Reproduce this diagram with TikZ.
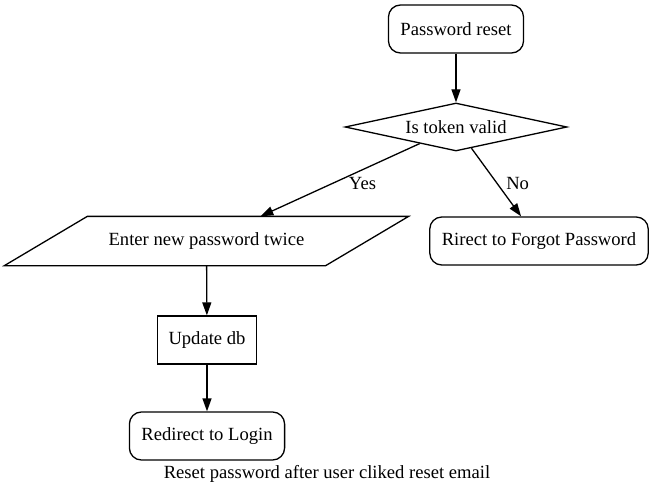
\documentclass[tikz,border=0pt]{standalone}
\usepackage{fontspec}
\setmainfont{Liberation Serif}
\usetikzlibrary{shapes.geometric,arrows.meta}

\begin{document}
\begin{tikzpicture}[x=1pt,y=-1pt,line width=1.3pt,>={Triangle[length=13pt,width=9pt]},
  every node/.style={font=\fontsize{18.6}{22}\selectfont},
  roundbox/.style={draw,rounded corners=12pt,minimum height=48pt,inner xsep=12pt},
  plainbox/.style={draw,minimum width=99pt,minimum height=48pt},
  decision/.style={draw,diamond,aspect=4.6,inner sep=0pt,minimum width=222pt,minimum height=48pt},
  inputbox/.style={minimum width=320pt,minimum height=48pt}]
\useasboundingbox (0,0) rectangle (654,495);
\node[roundbox,minimum width=134pt] (reset) at (456,29) {Password reset};
\node[decision] (valid) at (456,127) {Is token valid};
\node[inputbox] (enter) at (206.5,241) {Enter new password twice};
\node[roundbox,minimum width=214pt] (forgot) at (539,241) {Rirect to Forgot Password};
\node[plainbox] (update) at (207,340) {Update db};
\node[roundbox,minimum width=153pt] (login) at (207,436) {Redirect to Login};
\node (caption) at (327,474) {Reset password after user cliked reset email};

% slanted input box
\draw ([xshift=41.5pt]enter.north west) -- ([xshift=41.5pt]enter.north east)
  -- ([xshift=-41.5pt]enter.south east) -- ([xshift=-41.5pt]enter.south west) -- cycle;

\draw[->] (reset) -- (valid);
\draw[->] (valid) -- node[midway,right=5pt,yshift=-4pt] {Yes} (enter);
\draw[->] (valid) -- node[midway,right=6pt,yshift=-1.5pt] {No} (forgot);
\draw[->] (enter) -- (update);
\draw[->] (update) -- (login);
\end{tikzpicture}
\end{document}
